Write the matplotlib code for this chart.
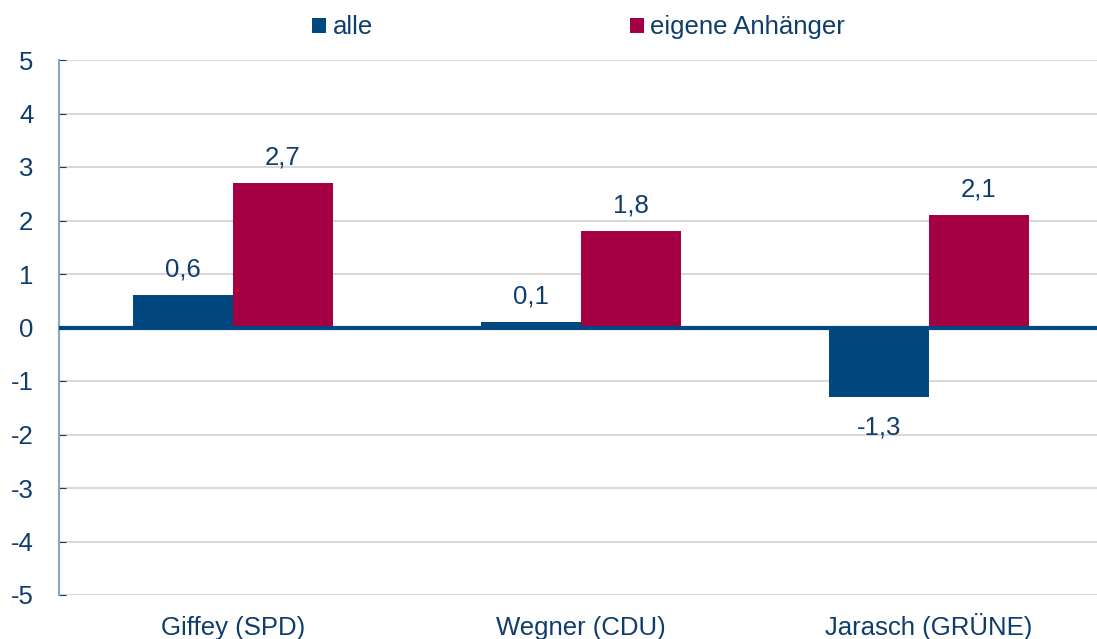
import numpy as np
import matplotlib.pyplot as plt

plt.rcParams['font.family'] = ['Liberation Sans', 'DejaVu Sans']

kandidaten = ["Giffey (SPD)", "Wegner (CDU)", "Jarasch (GRÜNE)"]
alle = [0.6, 0.1, -1.3]
anhaenger = [2.7, 1.8, 2.1]
yticks = list(range(-5, 6))

blau = "#00487f"
rot = "#a50044"
text_c = "#0f3d6b"
fs = 18.5

fig = plt.figure(figsize=(10.97, 6.39), dpi=100)
ax = fig.add_axes([59/1097, 44/639, 1044/1097, 535/639])

x = np.arange(len(kandidaten))
w = 0.287
b1 = ax.bar(x - w/2, alle, w, color=blau, label="alle", zorder=2)
b2 = ax.bar(x + w/2, anhaenger, w, color=rot, label="eigene Anhänger", zorder=2)

for bars in (b1, b2):
    for r in bars:
        v = r.get_height()
        lab = ("%.1f" % v).replace(".", ",")
        if v >= 0:
            ax.annotate(lab, (r.get_x() + r.get_width()/2, v), xytext=(0, 10),
                        textcoords="offset points", ha="center", va="bottom",
                        fontsize=fs, color=text_c)
        else:
            ax.annotate(lab, (r.get_x() + r.get_width()/2, v), xytext=(0, -13),
                        textcoords="offset points", ha="center", va="top",
                        fontsize=fs, color=text_c)

ax.axhline(0, color=blau, lw=3, zorder=3)
ax.set_ylim(-5, 5)
ax.set_xlim(-0.5, 2.5)
ax.set_yticks(yticks)
ax.set_yticklabels([str(t) for t in yticks])
ax.yaxis.grid(True, color="#d9d9d9", lw=1.5, zorder=0)
ax.set_axisbelow(True)
ax.set_xticks(x)
ax.set_xticklabels(kandidaten, va="baseline")
ax.tick_params(axis="x", length=0, pad=29, labelsize=fs, labelcolor=text_c)
ax.tick_params(axis="y", direction="in", length=5, color=text_c, pad=18.5,
               labelsize=fs, labelcolor=text_c)
for s in ("top", "right", "bottom"):
    ax.spines[s].set_visible(False)
ax.spines["left"].set_color("#8aa5c0")
ax.spines["left"].set_linewidth(1.5)

fig.legend(loc="upper center", bbox_to_anchor=(0.5275, 1.012), ncol=2, frameon=False,
           fontsize=fs, labelcolor=text_c, handlelength=0.55, handleheight=0.55,
           handletextpad=0.25, columnspacing=10)

fig.savefig("out.png", dpi=100)
